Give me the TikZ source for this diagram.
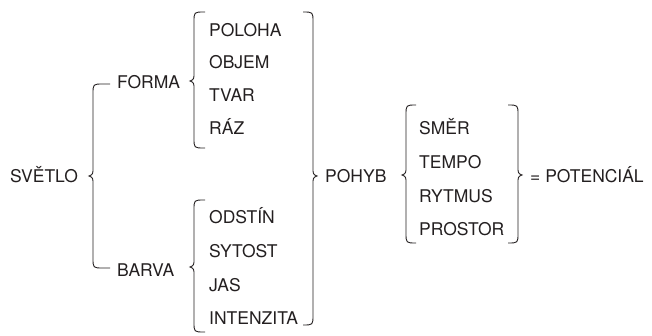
\documentclass[tikz,border=0pt]{standalone}
\usepackage{fontspec}
\setmainfont{TeX Gyre Heros}
\definecolor{ink}{HTML}{231F20}
% Curly brace opening to the right: #1 x of the stem, #2 top y, #3 bottom y,
% #4 y of the tip, #5 x where the two ends stop
\newcommand{\openbrace}[5]{%
  \draw[bracepen] (#5,#2) -- ({#1+10},#2) .. controls (#1,#2) .. (#1,{#2+10})
    -- (#1,{#4-5}) .. controls (#1,{#4-1.5}) and ({#1-2.5},#4) .. ({#1-4},#4)
    .. controls ({#1-2.5},#4) and (#1,{#4+1.5}) .. (#1,{#4+5})
    -- (#1,{#3-10}) .. controls (#1,#3) .. ({#1+10},#3) -- (#5,#3);}
% Curly brace closing to the right
\newcommand{\shutbrace}[5]{%
  \draw[bracepen] (#5,#2) -- ({#1-10},#2) .. controls (#1,#2) .. (#1,{#2+10})
    -- (#1,{#4-5}) .. controls (#1,{#4-1.5}) and ({#1+2.5},#4) .. ({#1+4},#4)
    .. controls ({#1+2.5},#4) and (#1,{#4+1.5}) .. (#1,{#4+5})
    -- (#1,{#3-10}) .. controls (#1,#3) .. ({#1-10},#3) -- (#5,#3);}
\begin{document}
\begin{tikzpicture}[x=1pt,y=-1pt,
  word/.style={anchor=west,inner sep=0pt,text height=12.6pt,text depth=0pt,
    font=\fontsize{17.5}{20}\selectfont,text=ink},
  bracepen/.style={draw=ink,line width=0.9pt}]
\useasboundingbox (0,0) rectangle (652,336);

% first level
\node[word] (svetlo) at (10,176) {SVĚTLO};
\openbrace{93}{84}{268}{176}{110}
\node[word] (forma) at (117,82) {FORMA};
\node[word] (barva) at (117,270) {BARVA};

% properties of form
\openbrace{194}{12}{148}{81}{205}
\node[word] (poloha) at (209,30) {POLOHA};
\node[word] (objem)  at (209,62) {OBJEM};
\node[word] (tvar)   at (209,95) {TVAR};
\node[word] (raz)    at (209,128) {RÁZ};

% properties of colour
\openbrace{194}{200}{332}{267}{205}
\node[word] (odstin)    at (209,217) {ODSTÍN};
\node[word] (sytost)    at (209,251) {SYTOST};
\node[word] (jas)       at (209,285) {JAS};
\node[word] (intenzita) at (209,318) {INTENZITA};

% everything gathered into movement
\shutbrace{313}{12}{325}{176}{303}
\node[word] (pohyb) at (325,176) {POHYB};
\openbrace{406}{105}{243}{175}{416}
\node[word] (smer)    at (419,128) {SMĚR};
\node[word] (tempo)   at (419,162) {TEMPO};
\node[word] (rytmus)  at (419,196) {RYTMUS};
\node[word] (prostor) at (419,229) {PROSTOR};
\shutbrace{518}{105}{243}{175}{508}
\node[word] (potencial) at (530,176) {= POTENCIÁL};
\end{tikzpicture}
\end{document}
